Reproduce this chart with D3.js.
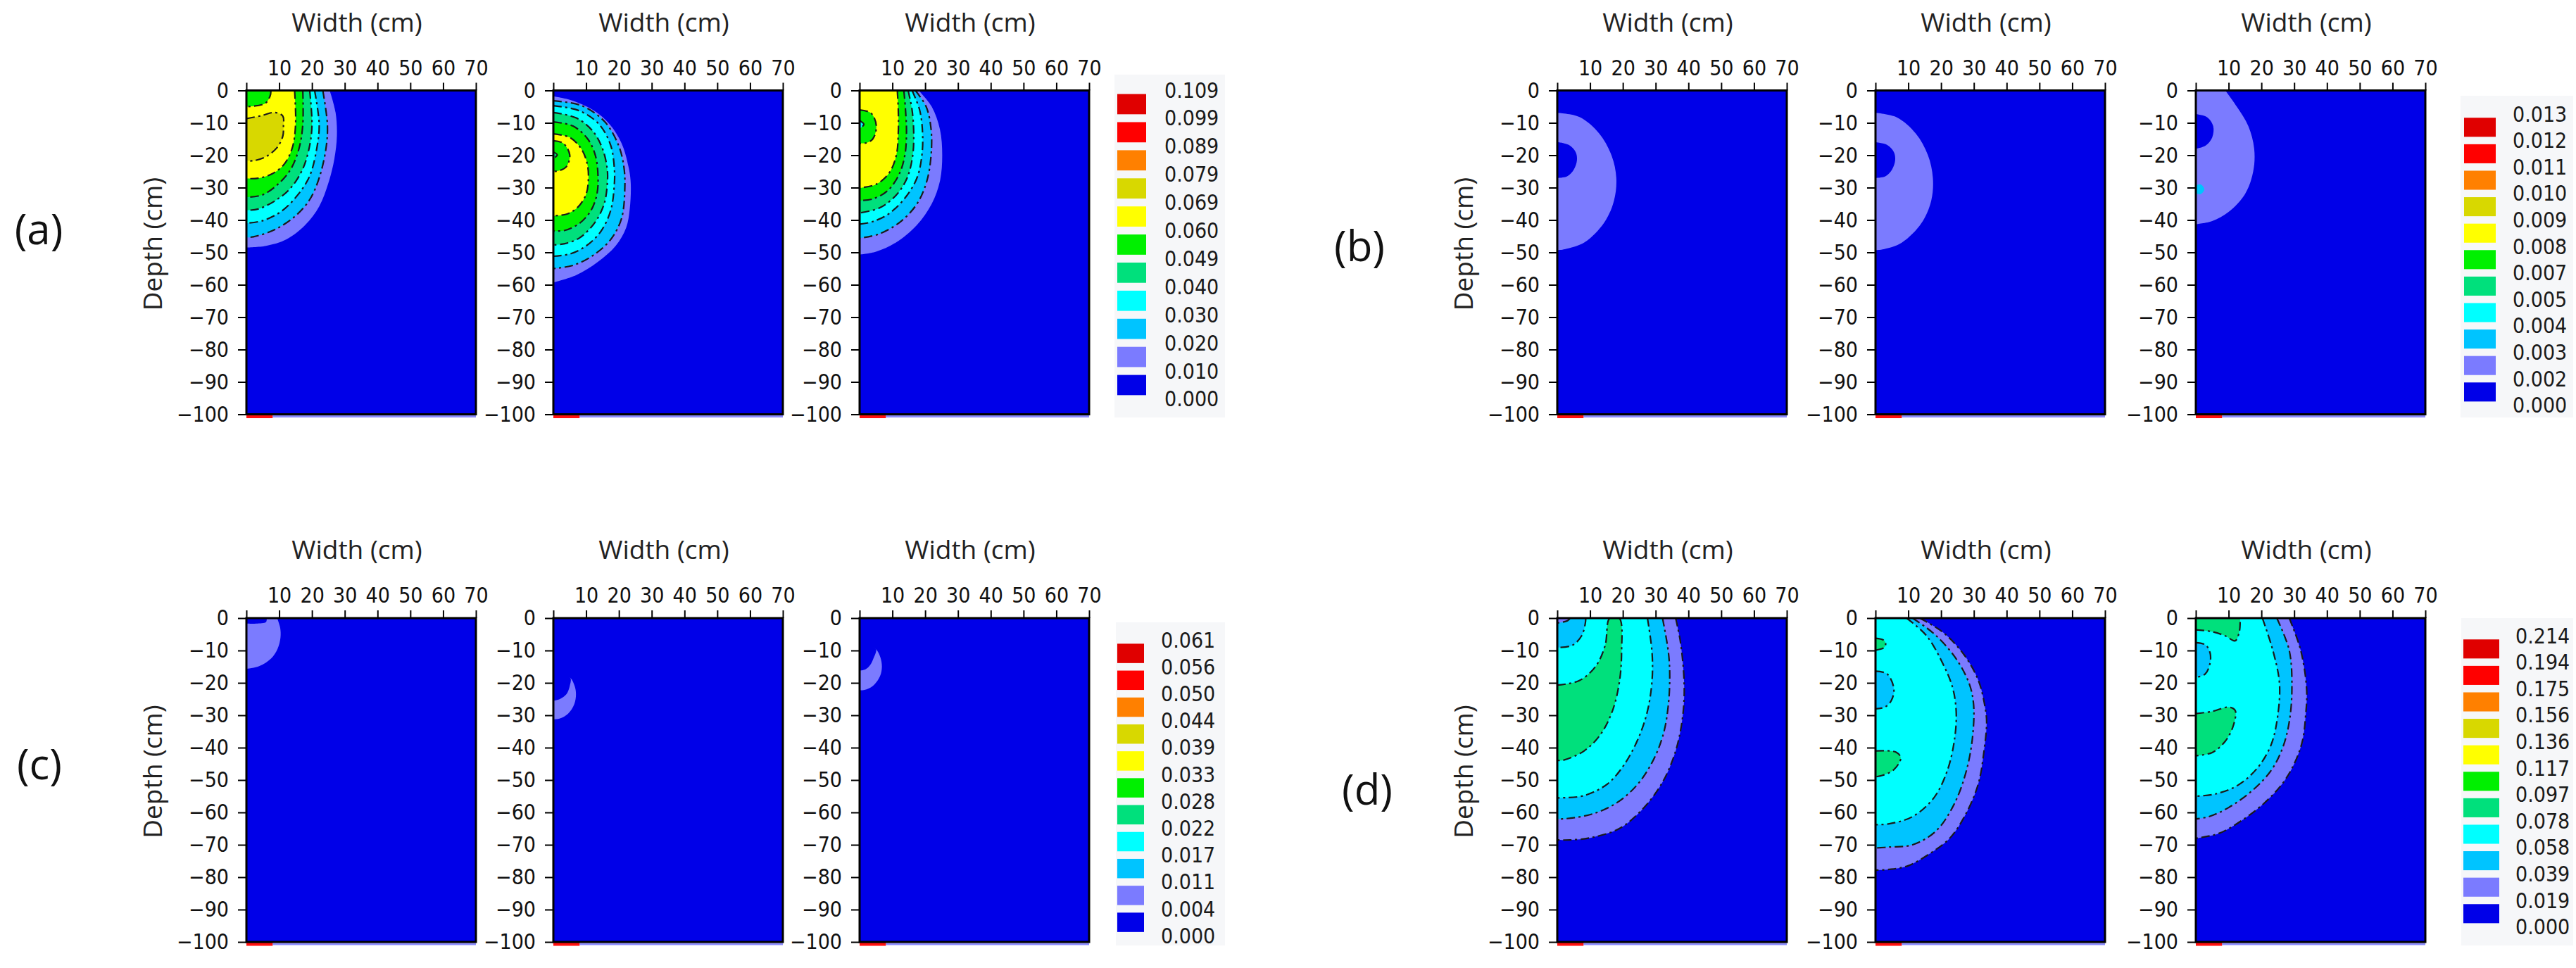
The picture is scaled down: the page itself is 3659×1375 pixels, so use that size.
<!DOCTYPE html>
<html>
<head>
<meta charset="utf-8">
<script src="https://cdnjs.cloudflare.com/ajax/libs/d3/7.8.5/d3.min.js"></script>
<style>
body { margin: 0; background: #fff; }
.tick text { font-family: "DejaVu Sans Condensed", "DejaVu Sans", sans-serif; font-stretch: condensed; font-size: 30px; fill: #111; }
.tick line { stroke: #000; stroke-width: 2; }
.title { font-family: "Open Sans", "Noto Sans", sans-serif; font-size: 37px; fill: #222; }
.group { font-family: "Open Sans", "Noto Sans", sans-serif; font-size: 60px; fill: #111; }
.legtext { font-family: "DejaVu Sans Condensed", "DejaVu Sans", sans-serif; font-stretch: condensed; font-size: 30px; fill: #1a1a1a; }
</style>
</head>
<body>
<div id="chart"></div>
<script>
// ---- data ----
var widthTicks = [0, 10, 20, 30, 40, 50, 60, 70];
var depthTicks = [0, -10, -20, -30, -40, -50, -60, -70, -80, -90, -100];

// legend levels, top to bottom
var levelsA = ["0.109", "0.099", "0.089", "0.079", "0.069", "0.060", "0.049", "0.040", "0.030", "0.020", "0.010", "0.000"];
var levelsB = ["0.013", "0.012", "0.011", "0.010", "0.009", "0.008", "0.007", "0.005", "0.004", "0.003", "0.002", "0.000"];
var levelsC = ["0.061", "0.056", "0.050", "0.044", "0.039", "0.033", "0.028", "0.022", "0.017", "0.011", "0.004", "0.000"];
var levelsD = ["0.214", "0.194", "0.175", "0.156", "0.136", "0.117", "0.097", "0.078", "0.058", "0.039", "0.019", "0.000"];

// band colours, lowest band first
var bandColors = ["#0000e8", "#7b7bff", "#00c4ff", "#00ffff", "#00e07c", "#00f000", "#ffff00", "#d8d800", "#ff8000", "#ff0000", "#e00000"];

// contour regions: band index + boundary [width cm, depth cm], drawn outer to inner
var regionsA1 = [
  {band: 1, pts: [[25.4,0],[27.2,-6.8],[27.6,-14.1],[26.8,-21.3],[25,-28.6],[22.2,-35.8],[17.9,-41.6],[12.2,-46],[6,-48],[0,-48.5]]},
  {band: 2, pts: [[23.3,0],[24.7,-10.5],[24.3,-17.7],[22.2,-27],[19.3,-33.7],[15,-38.7],[8.6,-43],[2.1,-45.2],[0,-45.4]]},
  {band: 3, pts: [[20.8,0],[22.2,-10.5],[21.5,-17.7],[19.3,-26.4],[15.7,-32.2],[10.7,-37.3],[5,-40.2],[0,-41]]},
  {band: 4, pts: [[19.3,0],[20,-10.5],[19.3,-17],[17.2,-24.2],[13.6,-30],[9.3,-33.7],[3.6,-36.6],[0,-37]]},
  {band: 5, pts: [[17.2,0],[17.2,-10.5],[16.1,-17.7],[13.6,-24.2],[10,-28.6],[5,-32.2],[0,-33]]},
  {band: 6, pts: [[14.7,0],[15,-10.5],[14,-17.7],[11.5,-22.8],[7.9,-25.7],[3.6,-27.1],[0,-27.2]]},
  {band: 7, pts: [[0,-8.7],[4.5,-7.8],[8.6,-6.8],[11.1,-7.9],[11.3,-11],[11.1,-14.1],[9.3,-17.7],[5.7,-20.6],[2.1,-21.7],[0,-21.7]]},
  {band: 5, pts: [[7.5,0],[7.2,-1.8],[5.7,-4],[0,-5]]}
];
var regionsA2 = [
  {band: 1, pts: [[0,-1.8],[5,-2.9],[12.2,-6.1],[17.2,-10.5],[20.8,-16.3],[22.9,-23.5],[23.6,-28.6],[23.3,-36.6],[22.2,-42.4],[19,-48],[13.5,-53],[7,-57],[0,-59.3]]},
  {band: 2, pts: [[0,-3.2],[8.6,-4.7],[15.7,-9.7],[19.9,-17],[21.5,-23.5],[21.8,-30],[20.8,-39.5],[17.5,-46],[12,-51],[6,-54],[0,-55]]},
  {band: 3, pts: [[0,-4.7],[8,-6.3],[14,-10.5],[17.5,-17],[18.6,-24],[18.6,-29],[17.5,-37],[14.5,-43.5],[10,-48],[5,-50.5],[0,-51.2]]},
  {band: 4, pts: [[0,-6.8],[7,-8.5],[12,-12.5],[15,-18],[16.4,-24],[16.5,-28],[15.5,-35],[12.5,-41],[8,-45.5],[3.5,-47.3],[0,-47.7]]},
  {band: 5, pts: [[0,-9.7],[6,-11],[10.5,-15],[12.8,-20],[13.6,-26],[13.3,-32],[11.5,-37],[8,-41],[3.5,-43.2],[0,-43.4]]},
  {band: 6, pts: [[0,-13.4],[5,-14.5],[8.5,-18],[10.3,-22.5],[10.7,-27],[10,-32],[7.5,-36],[4,-38.2],[0,-38.7]]},
  {band: 5, pts: [[0,-15.5],[3,-16.3],[5,-19.9],[4,-23.5],[2,-24.7],[0,-25]]},
  {band: 4, pts: [[0,-19],[1.2,-19.9],[0,-21]]}
];
var regionsA3 = [
  {band: 1, pts: [[18,0],[22,-5],[24.5,-12],[25.2,-20],[24.5,-28],[22,-35],[17.5,-41.5],[11,-47],[5,-49.8],[0,-50.7]]},
  {band: 2, pts: [[17,0],[20.3,-5],[21.8,-12],[21.8,-20],[20.5,-28],[17.5,-35],[12.5,-40.5],[6,-44.3],[0,-45.6]]},
  {band: 3, pts: [[16,0],[18.3,-6],[19.2,-13],[19,-20],[17.5,-27],[14,-33],[9,-38],[4,-40.5],[0,-41.3]]},
  {band: 4, pts: [[14.8,0],[16,-6],[16.5,-13],[16.2,-20],[14.5,-27],[11,-32.5],[6,-36.3],[0,-37.8]]},
  {band: 5, pts: [[13.5,0],[14,-6],[14.3,-13],[13.8,-20],[12,-26],[8.5,-31],[4,-33.5],[0,-34]]},
  {band: 6, pts: [[11.5,0],[11.8,-6],[11.8,-13],[11.2,-20],[9,-25.5],[5,-29],[0,-30.1]]},
  {band: 5, pts: [[0,-6],[3.5,-7],[5.1,-11],[4,-15],[2,-16.2],[0,-16.3]]},
  {band: 3, pts: [[0,-9.3],[1.3,-10.5],[0,-11.8]]}
];
var regionsB1 = [
  {band: 1, pts: [[0,-6.9],[6.8,-8.2],[12.8,-13.3],[16.6,-20.2],[18,-27],[17.3,-34],[14.3,-40.8],[8.3,-46.9],[2.3,-49],[0,-49.3]]},
  {band: 0, pts: [[0,-15.9],[3.5,-16.8],[5.6,-19],[6,-21.5],[5,-24.5],[3,-26.5],[0,-27]]}
];
var regionsB2 = [
  {band: 1, pts: [[0,-6.9],[6.5,-8.3],[12.3,-13.3],[16,-20],[17.5,-27],[17,-34],[14,-41],[8,-47],[2.5,-49],[0,-49.3]]},
  {band: 0, pts: [[0,-16],[3.5,-16.8],[5.6,-19],[6,-21.5],[5,-24.5],[3,-26.5],[0,-27]]}
];
var regionsB3 = [
  {band: 1, pts: [[9,0],[12.5,-5],[16,-11],[17.8,-18],[17.5,-25],[15,-32],[10,-37.5],[5,-40.3],[0,-41.3]]},
  {band: 0, pts: [[0,-7.3],[3.5,-8.3],[5.3,-11],[5,-14.5],[3,-17],[0,-18]]},
  {band: 2, pts: [[0,-29.3],[1.5,-29],[2.6,-30.5],[1.5,-32],[0,-31.8]]}
];
var regionsC1 = [
  {band: 1, pts: [[9.4,0],[10.3,-3],[10.4,-6],[9.5,-9.5],[7.5,-12.5],[4,-14.8],[0,-15.7]]},
  {band: 0, pts: [[6.2,0],[6,-1.2],[3,-1.7],[0,-1.7]]}
];
var regionsC2 = [
  {band: 1, pts: [[0,-17.5],[3,-17.8],[5.2,-18.5],[6.5,-21],[6.9,-23.5],[6.4,-26.5],[4.5,-29.5],[2,-31],[0,-31.3]]},
  {band: 0, pts: [[0,-17],[3,-17.5],[5.2,-18.5],[5,-21],[4,-23.5],[2,-25],[0,-25.5]]}
];
var regionsC3 = [
  {band: 1, pts: [[0,-8.5],[3,-8.8],[5,-9.6],[6.3,-12],[6.8,-15],[6.2,-18],[4,-21],[1.5,-22.2],[0,-22.3]]},
  {band: 0, pts: [[0,-8],[3,-8.6],[5,-9.6],[4.2,-12.5],[3.2,-14.5],[1.8,-15.8],[0,-16.2]]}
];
var regionsD1 = [
  {band: 1, pts: [[36.1,0],[37.5,-7],[38.6,-17.8],[38.6,-26.5],[37.5,-35.2],[35.4,-43.2],[31.8,-51.2],[26,-59],[18.9,-65],[10.3,-67.8],[3.9,-68.5],[0,-68.5]]},
  {band: 2, pts: [[32.1,0],[33.9,-10.6],[34.3,-17.8],[33.9,-26.5],[32.5,-35.2],[29.6,-43.2],[24.6,-51.2],[18.2,-57],[10.3,-60.6],[1.7,-62],[0,-62]]},
  {band: 3, pts: [[27.5,0],[28.9,-10.6],[28.9,-19.3],[27.5,-28.7],[24.6,-37.4],[20.3,-45.4],[15.3,-51.2],[8.2,-54.8],[1,-55.5],[0,-55.5]]},
  {band: 4, pts: [[0,-20.7],[6.7,-19.3],[11.7,-14.9],[14.6,-8.4],[16,0],[18.9,0],[19.6,-10.6],[18.9,-20],[16.8,-28.7],[13.2,-35.9],[8.2,-41],[1.7,-43.9],[0,-43.9]]},
  {band: 2, pts: [[8.7,0],[8.5,-1.9],[7.4,-5.5],[4.6,-8.4],[0,-9.1]]},
  {band: 1, pts: [[3.9,0],[3.1,-0.8],[0,-1.5]]}
];
var regionsD2 = [
  {band: 1, pts: [[13.5,0],[20.6,-4.4],[27,-11.3],[31.4,-19.3],[33.5,-28],[33.9,-32.3],[33.1,-41],[31.4,-51],[27.8,-60],[22.8,-67.8],[16.3,-72.9],[9.9,-76.5],[4.2,-77.6],[0,-77.8]]},
  {band: 2, pts: [[11.3,0],[17.8,-4.8],[24.2,-12],[28.5,-20],[29.9,-26.5],[29.6,-36.7],[27.8,-46.8],[24.2,-57],[18.5,-65.7],[11.3,-70],[4.2,-70.7],[0,-71]]},
  {band: 3, pts: [[9.5,0],[15.6,-5.5],[20.6,-14.2],[23.5,-21.4],[24.6,-28.7],[24.2,-36.7],[22,-46.8],[17.8,-55.5],[11.3,-61.3],[4.2,-63.5],[0,-63.8]]},
  {band: 4, pts: [[0,-6.2],[2.5,-6.8],[3.1,-8],[2.5,-9.2],[0,-9.9]]},
  {band: 2, pts: [[0,-16.4],[3.5,-17.2],[5.6,-21.8],[4.8,-25.5],[2.8,-27.5],[0,-28]]},
  {band: 4, pts: [[0,-41],[6.3,-41.4],[7.7,-43.2],[5.6,-46.8],[2,-48.6],[0,-49]]}
];
var regionsD3 = [
  {band: 1, pts: [[28.5,0],[32,-10],[33.8,-22],[33.5,-30],[32.5,-38],[30,-45],[26.5,-51],[21,-57],[14,-62.5],[7,-66.5],[0,-68]]},
  {band: 2, pts: [[24.7,0],[28.5,-10],[29.3,-22],[28.5,-32],[26.5,-40],[23,-47],[17.5,-53],[10,-58.5],[4,-61.3],[0,-62]]},
  {band: 3, pts: [[20.3,0],[23.5,-10],[25.5,-20],[25,-30],[23,-39],[19,-46],[13,-51.5],[6,-54.3],[0,-55]]},
  {band: 4, pts: [[0,-3.6],[5,-4.2],[9,-5.5],[12,-7],[13.3,-4],[13.5,0]]},
  {band: 2, pts: [[0,-7.6],[3,-8.3],[4.4,-11],[4.2,-14.5],[2.8,-17.3],[0,-18.3]]},
  {band: 4, pts: [[0,-29.5],[5,-28.8],[10,-27.5],[12,-28.5],[11.5,-33],[9,-38],[5,-41.5],[0,-42.5]]}
];
// emitter strip along the bottom boundary
var emitterSpan = [0, 8];

// ---- layout ----
var W = 3659, H = 1375;
var PW = 326, PH = 460;

var groups = [
  {label: "(a)", levels: levelsA, panels: [regionsA1, regionsA2, regionsA3], top: 128.5, lefts: [350, 786, 1221],
   labelAt: [55, 326], leg: {x: 1587, sw: 41, lx: 1654, y0: 128, step: 39.9, bg: [1583, 106, 157, 487]}, lines: true, outer: false},
  {label: "(b)", levels: levelsB, panels: [regionsB1, regionsB2, regionsB3], top: 128.5, lefts: [2212, 2664, 3119],
   labelAt: [1931, 350], leg: {x: 3500, sw: 45, lx: 3569, y0: 162, step: 37.6, bg: [3495, 136, 160, 457]}, lines: false, outer: false},
  {label: "(c)", levels: levelsC, panels: [regionsC1, regionsC2, regionsC3], top: 878, lefts: [350, 786, 1221],
   labelAt: [56, 1086], leg: {x: 1587, sw: 38, lx: 1649, y0: 909, step: 38.2, bg: [1585, 884, 155, 459]}, lines: false, outer: false},
  {label: "(d)", levels: levelsD, panels: [regionsD1, regionsD2, regionsD3], top: 878, lefts: [2212, 2664, 3119],
   labelAt: [1942, 1122], leg: {x: 3499, sw: 51, lx: 3573, y0: 903, step: 37.6, bg: [3496, 878, 159, 465]}, lines: true, outer: true}
];

var svg = d3.select("#chart").append("svg")
    .attr("width", W)
    .attr("height", H);
svg.append("rect").attr("width", W).attr("height", H).attr("fill", "#fff");

var clipId = 0;

groups.forEach(function(g) {
  // group letter
  svg.append("text").attr("class", "group")
      .attr("x", g.labelAt[0]).attr("y", g.labelAt[1])
      .attr("dy", "0.35em").attr("text-anchor", "middle")
      .text(g.label);

  g.panels.forEach(function(regions, pi) {
    var left = g.lefts[pi];
    var x = d3.scaleLinear().domain([0, 70]).range([left, left + PW]);
    var y = d3.scaleLinear().domain([0, -100]).range([g.top, g.top + PH]);

    var id = "clip" + (clipId++);
    svg.append("clipPath").attr("id", id)
      .append("rect").attr("x", x(0)).attr("y", y(0)).attr("width", PW).attr("height", PH);

    var plot = svg.append("g");
    var area = plot.append("g").attr("clip-path", "url(#" + id + ")");

    area.append("rect")
        .attr("x", x(0)).attr("y", y(0))
        .attr("width", x(70) - x(0)).attr("height", y(-100) - y(0))
        .attr("fill", bandColors[0]);

    var line = d3.line()
        .x(function(d) { return x(d[0]); })
        .y(function(d) { return y(d[1]); })
        .curve(d3.curveCatmullRom.alpha(0.5));

    // close a boundary back along the left edge (through the corner if it touches the top)
    function closed(pts) {
      var a = pts[0], b = pts[pts.length - 1];
      var corner = (a[1] === 0 && a[0] > 0) || (b[1] === 0 && b[0] > 0);
      return line(pts) + (corner ? "L" + x(0) + "," + y(0) : "") + "Z";
    }

    area.selectAll("path.band")
      .data(regions)
      .enter().append("path")
        .attr("class", "band")
        .attr("d", function(d) { return closed(d.pts); })
        .attr("fill", function(d) { return bandColors[d.band]; });

    if (g.lines) {
      area.selectAll("path.iso")
        .data(regions.filter(function(d, i) { return g.outer || i > 0; }))
        .enter().append("path")
          .attr("class", "iso")
          .attr("d", function(d) { return line(d.pts); })
          .attr("fill", "none")
          .attr("stroke", "#1a1a1a")
          .attr("stroke-width", 2.2)
          .attr("stroke-dasharray", "12,5,3,5");
    }

    // emitter strip and bottom boundary
    plot.append("line")
        .attr("x1", x(emitterSpan[1])).attr("x2", x(70))
        .attr("y1", y(-100) + 3).attr("y2", y(-100) + 3)
        .attr("stroke", "#8a8aff").attr("stroke-width", 3);
    plot.append("line")
        .attr("x1", x(emitterSpan[0])).attr("x2", x(emitterSpan[1]))
        .attr("y1", y(-100) + 3).attr("y2", y(-100) + 3)
        .attr("stroke", "#ff1010").attr("stroke-width", 5);

    // frame
    plot.append("rect")
        .attr("x", x(0)).attr("y", y(0))
        .attr("width", x(70) - x(0)).attr("height", y(-100) - y(0))
        .attr("fill", "none").attr("stroke", "#000").attr("stroke-width", 3);

    // axes
    plot.append("g")
        .attr("transform", "translate(0," + y(0) + ")")
        .call(d3.axisTop(x).tickValues(widthTicks).tickSize(11).tickPadding(11)
          .tickFormat(function(d) { return d === 0 ? "" : d; }))
        .call(function(s) { s.select(".domain").remove(); });

    plot.append("g")
        .attr("transform", "translate(" + x(0) + ",0)")
        .call(d3.axisLeft(y).tickValues(depthTicks).tickSize(12).tickPadding(13))
        .call(function(s) { s.select(".domain").remove(); });

    plot.append("text").attr("class", "title")
        .attr("x", (x(0) + x(70)) / 2 - 6)
        .attr("y", y(0) - 84)
        .attr("text-anchor", "middle")
        .text("Width (cm)");

    if (pi === 0) {
      plot.append("text").attr("class", "title")
          .attr("transform", "translate(" + (x(0) - 133) + "," + (y(0) + 218) + ") rotate(-90)")
          .attr("dy", "0.35em")
          .attr("text-anchor", "middle")
          .text("Depth (cm)");
    }
  });

  // legend
  var L = g.leg;
  svg.append("rect")
      .attr("x", L.bg[0]).attr("y", L.bg[1]).attr("width", L.bg[2]).attr("height", L.bg[3])
      .attr("fill", "#f6f7f9");

  var ly = d3.scalePoint().domain(g.levels).range([L.y0, L.y0 + L.step * (g.levels.length - 1)]);

  svg.selectAll(null)
    .data(g.levels.slice(0, -1))
    .enter().append("rect")
      .attr("x", L.x)
      .attr("y", function(d) { return ly(d) + L.step * 0.5 - L.step * 0.36; })
      .attr("width", L.sw)
      .attr("height", L.step * 0.72)
      .attr("fill", function(d, i) { return bandColors[bandColors.length - 1 - i]; });

  svg.selectAll(null)
    .data(g.levels)
    .enter().append("text")
      .attr("class", "legtext")
      .attr("x", L.lx)
      .attr("y", function(d) { return ly(d); })
      .attr("dy", "0.35em")
      .text(function(d) { return d; });
});
</script>
</body>
</html>
